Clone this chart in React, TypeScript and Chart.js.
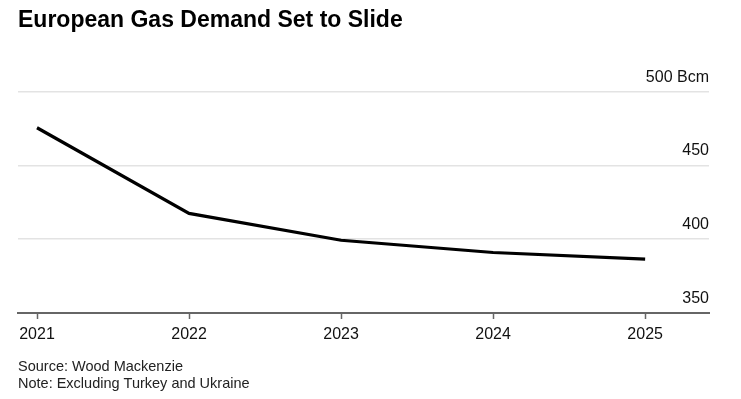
import React, { useEffect, useRef } from "react";
import { Chart, registerables } from "chart.js";

Chart.register(...registerables);

const titleText = "European Gas Demand Set to Slide";
const footerLines = ["Source: Wood Mackenzie", "Note: Excluding Turkey and Ukraine"];
const years = [2021, 2022, 2023, 2024, 2025];
const demandBcm = [475.5, 417.5, 399.3, 391, 386.5];
const yTicks = [350, 400, 450, 500];
const yTickLabels = ["350", "400", "450", "500 Bcm"];

const FONT = "'Liberation Sans', Arial, Helvetica, sans-serif";

export default function App() {
  const ref = useRef<HTMLCanvasElement | null>(null);

  useEffect(() => {
    if (!ref.current) return;
    const chart = new Chart(ref.current, {
      type: "line",
      data: {
        datasets: [
          {
            data: years.map((y, i) => ({ x: y, y: demandBcm[i] })),
            borderColor: "#000000",
            borderWidth: 3.2,
            pointRadius: 0,
            tension: 0,
            fill: false,
          },
        ],
      },
      options: {
        animation: false,
        responsive: false,
        maintainAspectRatio: false,
        layout: { padding: { left: 18, right: 32, top: 7, bottom: 4 } },
        plugins: {
          legend: { display: false },
          tooltip: { enabled: false },
          title: {
            display: true,
            text: titleText,
            align: "start",
            color: "#000000",
            font: { family: FONT, size: 23, weight: "bold" },
            padding: { top: 0, bottom: 57 },
          },
          subtitle: {
            display: true,
            position: "bottom",
            text: footerLines,
            align: "start",
            color: "#222222",
            font: { family: FONT, size: 14.5, weight: "normal" },
            padding: { top: 8, bottom: 2 },
          },
        },
        scales: {
          x: {
            type: "linear",
            min: 2020.875,
            max: 2025.42,
            afterBuildTicks: (axis: any) => {
              axis.ticks = years.map((v) => ({ value: v }));
            },
            grid: {
              display: true,
              drawOnChartArea: false,
              drawTicks: true,
              tickLength: 6,
              tickWidth: 1.5,
              tickColor: "#666666",
            },
            border: { display: true, color: "#666666", width: 2 },
            ticks: {
              autoSkip: false,
              maxRotation: 0,
              padding: 6,
              color: "#111111",
              font: { family: FONT, size: 16 },
              callback: (v: any) => String(v),
            },
          },
          y: {
            type: "linear",
            position: "right",
            min: 350,
            max: 500,
            afterBuildTicks: (axis: any) => {
              axis.ticks = yTicks.map((v) => ({ value: v }));
            },
            grid: {
              drawTicks: false,
              lineWidth: 1.5,
              color: (ctx: any) =>
                ctx.tick && ctx.tick.value === yTicks[0] ? "rgba(0,0,0,0)" : "#e3e3e3",
            },
            border: { display: false },
            ticks: {
              mirror: true,
              padding: 0,
              labelOffset: -14.5,
              color: "#111111",
              font: { family: FONT, size: 16 },
              callback: (_v: any, i: number) => yTickLabels[i],
            },
          },
        },
      },
    });
    return () => chart.destroy();
  }, []);

  return (
    <div style={{ position: "fixed", left: 0, top: 0, width: 741, height: 399, background: "#ffffff" }}>
      <canvas ref={ref} width={741} height={399} style={{ display: "block" }} />
    </div>
  );
}
